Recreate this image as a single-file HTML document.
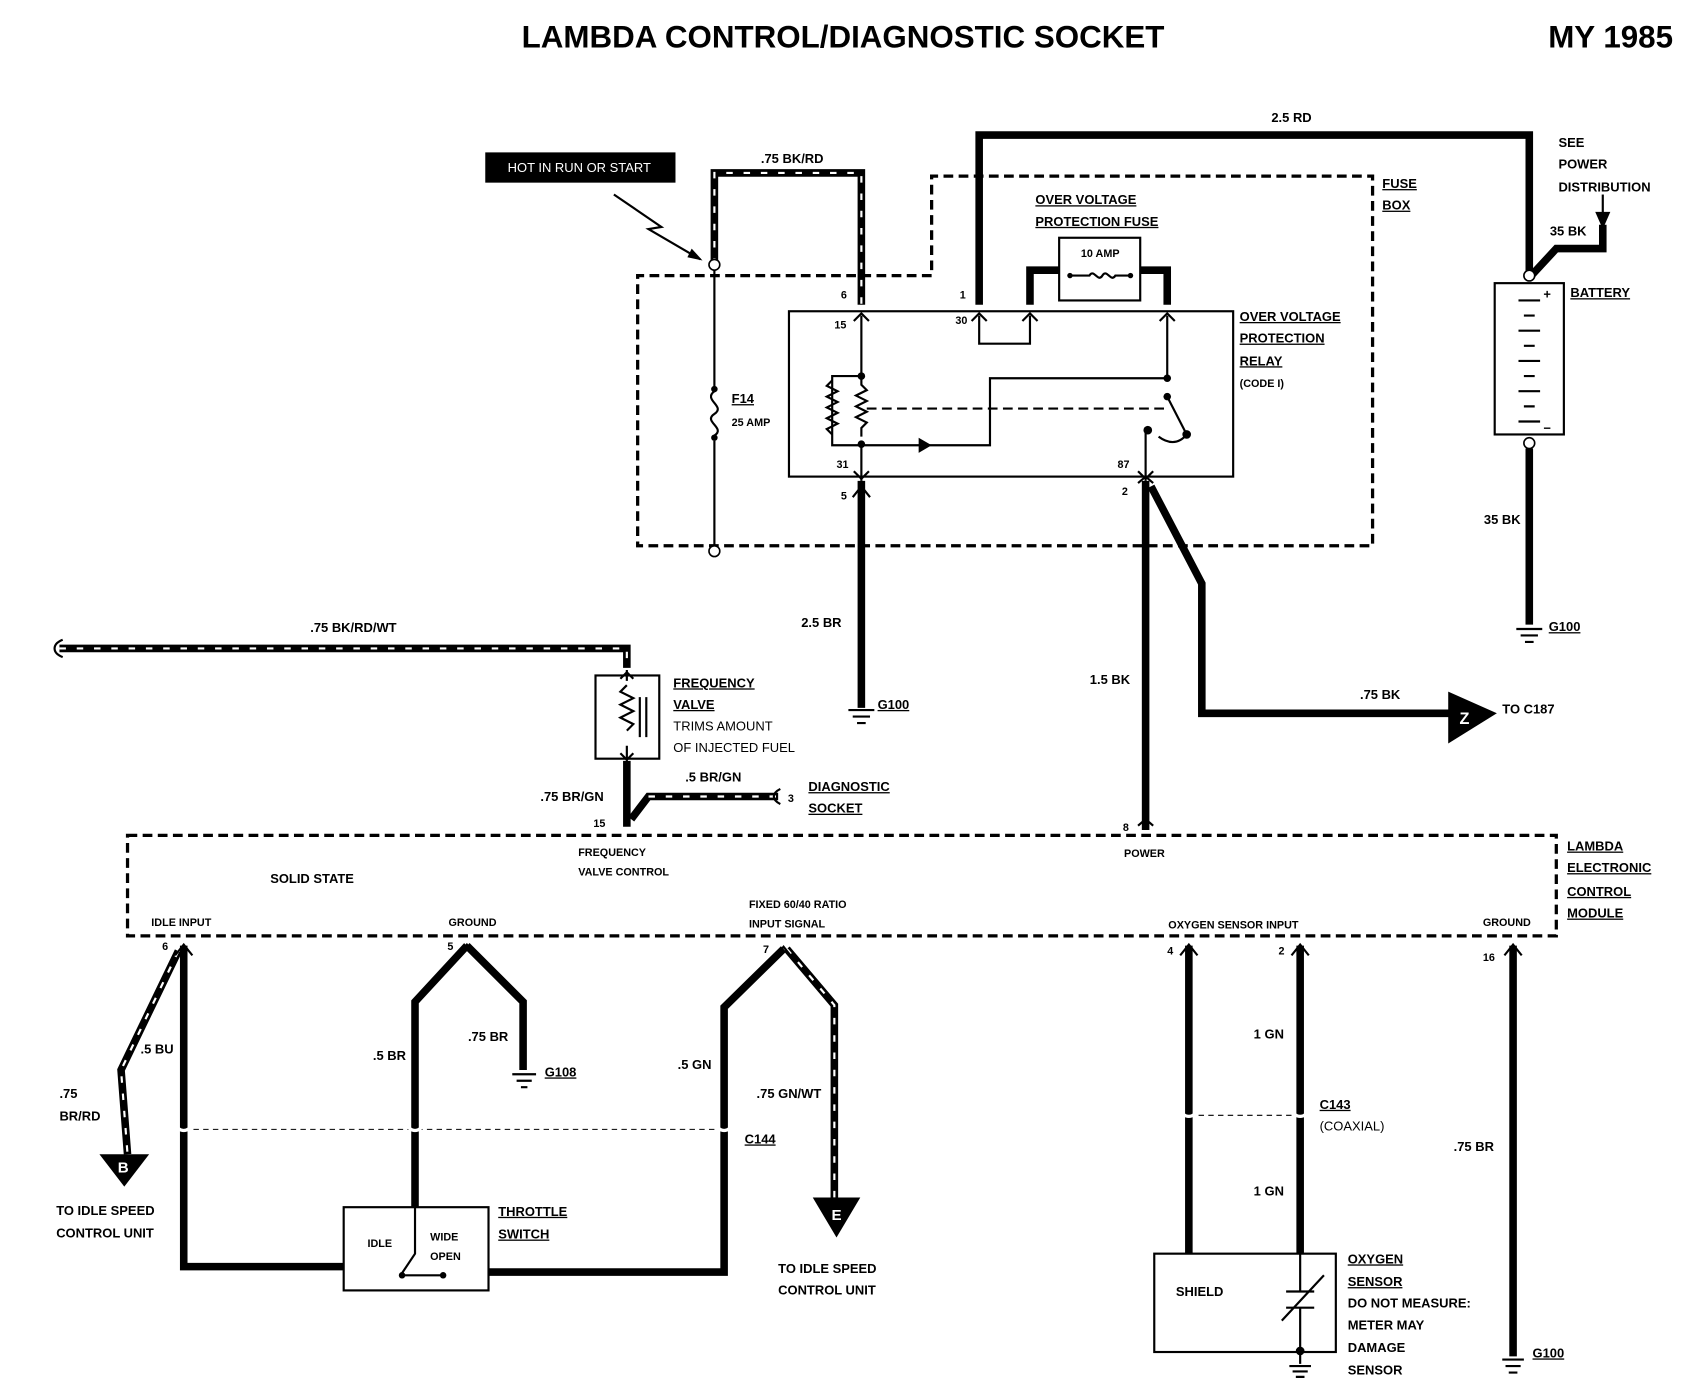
<!DOCTYPE html>
<html><head><meta charset="utf-8"><style>
html,body{margin:0;padding:0;background:#fff;}
svg{display:block;}
text{font-family:"Liberation Sans",sans-serif;font-weight:bold;fill:#000;}
.t{font-size:12px;}
.s{font-size:10px;}
.w{fill:none;stroke:#000;stroke-width:7;stroke-linejoin:miter;}
.n{fill:none;stroke:#000;stroke-width:2;}
.d{fill:none;stroke:#000;stroke-width:3;stroke-dasharray:9,5;}
.dl{fill:none;stroke:#000;stroke-width:1;stroke-dasharray:5,4;}
.st{fill:none;stroke:#fff;stroke-width:2;stroke-dasharray:6,10;}
</style></head><body>
<svg width="1686" height="1392" viewBox="0 0 1560 1288" preserveAspectRatio="none" xmlns="http://www.w3.org/2000/svg">
<rect width="1560" height="1288" fill="#fff"/>
<text x="780" y="44" text-anchor="middle" style="font-size:29px">LAMBDA CONTROL/DIAGNOSTIC SOCKET</text>
<text x="1548" y="44" text-anchor="end" style="font-size:29px">MY 1985</text>

<!-- HOT IN RUN -->
<rect x="449" y="141" width="176" height="28" fill="#000"/>
<text x="536" y="159" text-anchor="middle" class="t" style="fill:#fff;font-weight:normal">HOT IN RUN OR START</text>
<path d="M568 180 L612 210 L600 212 L648 240" class="n" stroke-width="3"/>
<path d="M640 230 L650 241 L636 238Z" fill="#000"/>

<!-- .75 BK/RD -->
<path d="M661 245 V160 H797 V282" class="w"/>
<path d="M661 245 V160 H797 V282" class="st"/>
<text x="733" y="151" text-anchor="middle" class="t">.75 BK/RD</text>

<!-- fuse box dashed -->
<path d="M862 255 H590 V505 H1270 V163 H862 Z" class="d" style="stroke-dasharray:9,5"/>
<rect x="863" y="164" width="406" height="90" fill="none"/>
<text x="1279" y="174" class="t" text-decoration="underline">FUSE</text>
<text x="1279" y="194" class="t" text-decoration="underline">BOX</text>

<!-- F14 -->
<path d="M661 250 V358 M661 408 V505" class="n"/>
<circle cx="661" cy="245" r="5" fill="#fff" stroke="#000" stroke-width="1.5"/>
<circle cx="661" cy="510" r="5" fill="#fff" stroke="#000" stroke-width="1.5"/>
<circle cx="661" cy="360" r="3" fill="#000"/><circle cx="661" cy="405" r="3" fill="#000"/>
<path d="M661 362 C650 370,672 376,661 383 C650 390,672 396,661 403" class="n"/>
<text x="677" y="373" class="t" text-decoration="underline">F14</text>
<text x="677" y="394" class="s">25 AMP</text>

<!-- 2.5 RD -->
<path d="M906 282 V125 H1415 V257" class="w"/>
<text x="1195" y="113" text-anchor="middle" class="t">2.5 RD</text>

<!-- over voltage fuse -->
<text x="958" y="189" class="t" text-decoration="underline">OVER VOLTAGE</text>
<text x="958" y="209" class="t" text-decoration="underline">PROTECTION FUSE</text>
<rect x="980" y="220" width="75" height="58" class="n"/>
<path d="M953 282 V250 H980 M1055 250 H1080 V282" class="w"/>
<text x="1018" y="238" text-anchor="middle" class="s">10 AMP</text>
<path d="M990 255 H1008 C1012 248,1016 262,1020 255 C1024 248,1028 262,1032 255 H1048" class="n"/>
<circle cx="990" cy="255" r="2.5"/><circle cx="1046" cy="255" r="2.5"/>

<!-- relay -->
<rect x="730" y="288" width="411" height="153" class="n"/>
<text x="778" y="276" class="s">6</text><text x="772" y="304" class="s">15</text>
<text x="888" y="276" class="s">1</text><text x="884" y="300" class="s">30</text>
<text x="774" y="433" class="s">31</text><text x="778" y="462" class="s">5</text>
<text x="1034" y="433" class="s">87</text><text x="1038" y="458" class="s">2</text>
<path d="M797 292 V348 M906 292 V318 H953 V292 M1080 292 V350 M797 410 V445 M1060 400 V445" class="n"/>
<path d="M790 297 L797 290 L804 297 M899 297 L906 290 L913 297 M946 297 L953 290 L960 297 M1073 297 L1080 290 L1087 297 M790 436 L797 443 L804 436 M1053 436 L1060 443 L1067 436" class="n"/>
<path d="M797 348 H770 V412 H797" class="n"/>
<path d="M770 352 l-5 5 l10 5 l-10 5 l10 5 l-10 5 l10 5 l-10 5 l10 5 l-10 5 l5 5" class="n"/>
<path d="M797 348 v8 l5 5 l-10 5 l10 5 l-10 5 l10 5 l-10 5 l10 5 l-5 5 v8" class="n"/>
<circle cx="797" cy="348" r="3.5"/><circle cx="797" cy="411" r="3.5"/>
<path d="M797 412 H916 V350 H1080" class="n"/>
<path d="M850 405 l12 7 l-12 7Z M862 403 v18"/>
<path d="M802 378 H1080" class="n" stroke-dasharray="9,5"/>
<circle cx="1080" cy="350" r="3.5"/><circle cx="1080" cy="367" r="3.5"/>
<path d="M1080 367 L1098 402 M1098 402 C1090 412,1080 410,1072 404" class="n"/>
<circle cx="1098" cy="402" r="4"/><circle cx="1062" cy="398" r="4"/>

<text x="1147" y="297" class="t" text-decoration="underline">OVER VOLTAGE</text>
<text x="1147" y="317" class="t" text-decoration="underline">PROTECTION</text>
<text x="1147" y="338" class="t" text-decoration="underline">RELAY</text>
<text x="1147" y="358" class="s">(CODE I)</text>

<!-- pin 5 ground -->
<path d="M797 445 V655" class="w"/>
<text x="760" y="580" text-anchor="middle" class="t">2.5 BR</text>
<path d="M785 657 H809 M789 663 H805 M793 669 H801" class="n"/>
<text x="812" y="656" class="t" text-decoration="underline">G100</text>

<!-- pin 2 -->
<path d="M1060 445 V768" class="w"/>
<path d="M1065 450 L1112 540 V660 H1345" class="w"/>
<path d="M1340 640 L1385 660 L1340 688Z"/>
<text x="1355" y="670" text-anchor="middle" style="font-size:15px;fill:#fff">Z</text>
<text x="1027" y="633" text-anchor="middle" class="t">1.5 BK</text>
<text x="1277" y="647" text-anchor="middle" class="t">.75 BK</text>
<text x="1390" y="660" class="t">TO C187</text>
<path d="M1053 447 L1060 441 L1067 447 M1053 764 L1060 758 L1067 764" class="n" stroke-width="3"/>

<!-- battery -->
<text x="1442" y="136" class="t">SEE</text>
<text x="1442" y="156" class="t">POWER</text>
<text x="1442" y="177" class="t">DISTRIBUTION</text>
<path d="M1483 180 V210" class="n"/>
<path d="M1476 196 L1490 196 L1483 212Z"/>
<path d="M1415 257 L1440 230 H1483 V208" class="w"/>
<text x="1434" y="218" class="t">35 BK</text>
<rect x="1383" y="262" width="64" height="140" class="n"/>
<circle cx="1415" cy="255" r="5" fill="#fff" stroke="#000" stroke-width="1.5"/>
<circle cx="1415" cy="410" r="5" fill="#fff" stroke="#000" stroke-width="1.5"/>
<path d="M1405 278h20 M1410 292h10 M1405 306h20 M1410 320h10 M1405 334h20 M1410 348h10 M1405 362h20 M1410 376h10 M1405 390h20" class="n"/>
<text x="1428" y="276" class="t">+</text><text x="1428" y="400" class="t">−</text>
<text x="1453" y="275" class="t" text-decoration="underline">BATTERY</text>
<path d="M1415 415 V578" class="w"/>
<text x="1390" y="485" text-anchor="middle" class="t">35 BK</text>
<path d="M1403 582 H1427 M1407 588 H1423 M1411 594 H1419" class="n"/>
<text x="1433" y="584" class="t" text-decoration="underline">G100</text>

<!-- .75 BK/RD/WT -->
<path d="M55 600 H580 V618" class="w"/>
<path d="M55 600 H580 V618" class="st"/>
<path d="M58 592 C48 596,48 604,58 608" class="n"/>
<text x="327" y="585" text-anchor="middle" class="t">.75 BK/RD/WT</text>
<rect x="551" y="625" width="59" height="77" class="n"/>
<path d="M580 620 V630 M580 690 V704" class="n"/>
<path d="M574 628 L580 622 L586 628 M574 697 L580 703 L586 697" class="n"/>
<path d="M580 634 l-6 6 l12 6 l-12 6 l12 6 l-12 6 l12 6 l-6 6" class="n"/>
<path d="M592 645 V682 M598 645 V682" class="n" stroke-width="1.5"/>
<text x="623" y="636" class="t" text-decoration="underline">FREQUENCY</text>
<text x="623" y="656" class="t" text-decoration="underline">VALVE</text>
<text x="623" y="676" class="t" style="font-weight:normal">TRIMS AMOUNT</text>
<text x="623" y="696" class="t" style="font-weight:normal">OF INJECTED FUEL</text>
<path d="M580 704 V765" class="w"/>
<path d="M584 758 L600 737 H720" class="w"/>
<path d="M600 737 H720" class="st"/>
<path d="M722 730 C714 734,714 740,722 744" class="n"/>
<text x="729" y="742" class="s">3</text>
<text x="634" y="723" class="t">.5 BR/GN</text>
<text x="500" y="741" class="t">.75 BR/GN</text>
<text x="549" y="765" class="s">15</text>
<text x="748" y="732" class="t" text-decoration="underline">DIAGNOSTIC</text>
<text x="748" y="752" class="t" text-decoration="underline">SOCKET</text>

<!-- ECM -->
<rect x="118" y="773" width="1322" height="93" class="d"/>
<text x="1450" y="787" class="t" text-decoration="underline">LAMBDA</text>
<text x="1450" y="807" class="t" text-decoration="underline">ELECTRONIC</text>
<text x="1450" y="829" class="t" text-decoration="underline">CONTROL</text>
<text x="1450" y="849" class="t" text-decoration="underline">MODULE</text>
<text x="250" y="817" class="t">SOLID STATE</text>
<text x="535" y="792" class="s">FREQUENCY</text>
<text x="535" y="810" class="s">VALVE CONTROL</text>
<text x="1039" y="769" class="s">8</text>
<text x="1040" y="793" class="s">POWER</text>
<text x="140" y="857" class="s">IDLE INPUT</text>
<text x="415" y="857" class="s">GROUND</text>
<text x="693" y="840" class="s">FIXED 60/40 RATIO</text>
<text x="693" y="858" class="s">INPUT SIGNAL</text>
<text x="1081" y="859" class="s">OXYGEN SENSOR INPUT</text>
<text x="1372" y="857" class="s">GROUND</text>
<text x="150" y="879" class="s">6</text><text x="414" y="879" class="s">5</text><text x="706" y="882" class="s">7</text>
<text x="1080" y="883" class="s">4</text><text x="1183" y="883" class="s">2</text><text x="1372" y="889" class="s">16</text>

<!-- idle input -->
<path d="M170 875 V1172 H318" class="w"/>
<path d="M165 880 L112 990 L118 1068" class="w"/>
<path d="M165 880 L112 990 L118 1068" class="st"/>
<path d="M92 1068 H138 L115 1098Z"/>
<text x="114" y="1085" text-anchor="middle" style="font-size:14px;fill:#fff">B</text>
<text x="130" y="975" class="t">.5 BU</text>
<text x="55" y="1016" class="t">.75</text><text x="55" y="1037" class="t">BR/RD</text>
<text x="52" y="1124" class="t">TO IDLE SPEED</text><text x="52" y="1145" class="t">CONTROL UNIT</text>

<!-- ground 5 -->
<path d="M432 875 L384 927 V1117 M432 875 L484 927 V990" class="w"/>
<text x="345" y="981" class="t">.5 BR</text>
<text x="433" y="963" class="t">.75 BR</text>
<path d="M474 994 H496 M478 1000 H492 M482 1006 H488" class="n"/>
<text x="504" y="996" class="t" text-decoration="underline">G108</text>

<!-- pin 7 -->
<path d="M725 878 L670 932 V1177 H452" class="w"/>
<path d="M728 878 L772 930 V1110" class="w"/>
<path d="M728 878 L772 930 V1110" class="st"/>
<path d="M752 1108 H796 L774 1145Z"/>
<text x="774" y="1129" text-anchor="middle" style="font-size:14px;fill:#fff">E</text>
<text x="627" y="989" class="t">.5 GN</text>
<text x="700" y="1016" class="t">.75 GN/WT</text>
<text x="720" y="1178" class="t">TO IDLE SPEED</text><text x="720" y="1198" class="t">CONTROL UNIT</text>

<!-- C144 -->
<path d="M170 1045 H670" class="dl"/>
<path d="M162 1040 C166 1048,174 1048,178 1040 M376 1040 C380 1048,388 1048,392 1040 M662 1040 C666 1048,674 1048,678 1040" stroke="#fff" stroke-width="3" fill="none"/>
<text x="689" y="1058" class="t" text-decoration="underline">C144</text>

<!-- throttle switch -->
<rect x="318" y="1117" width="134" height="77" class="n"/>
<text x="340" y="1154" class="s">IDLE</text>
<text x="398" y="1148" class="s">WIDE</text><text x="398" y="1166" class="s">OPEN</text>
<path d="M384 1117 V1160 L372 1178 M372 1180 H410" class="n"/>
<circle cx="372" cy="1180" r="3"/><circle cx="410" cy="1180" r="3"/>
<text x="461" y="1125" class="t" text-decoration="underline">THROTTLE</text>
<text x="461" y="1146" class="t" text-decoration="underline">SWITCH</text>

<!-- oxygen -->
<path d="M1100 875 V1160 M1203 875 V1160" class="w"/>
<path d="M1100 1032 H1203" class="dl"/>
<path d="M1092 1027 C1096 1035,1104 1035,1108 1027 M1195 1027 C1199 1035,1207 1035,1211 1027" stroke="#fff" stroke-width="3" fill="none"/>
<text x="1160" y="961" class="t">1 GN</text>
<text x="1160" y="1106" class="t">1 GN</text>
<text x="1221" y="1026" class="t" text-decoration="underline">C143</text>
<text x="1221" y="1046" class="t" style="font-weight:normal">(COAXIAL)</text>
<rect x="1068" y="1160" width="168" height="91" class="n"/>
<text x="1088" y="1199" class="t">SHIELD</text>
<path d="M1203 1160 V1195 M1190 1195 H1216 M1190 1210 H1216 M1203 1210 V1262 M1186 1222 L1225 1180" class="n"/>
<path d="M1193 1264 H1213 M1196 1269 H1210 M1199 1274 H1207" class="n"/>
<circle cx="1203" cy="1250" r="4"/>
<text x="1247" y="1169" class="t" text-decoration="underline">OXYGEN</text>
<text x="1247" y="1190" class="t" text-decoration="underline">SENSOR</text>
<text x="1247" y="1210" class="t">DO NOT MEASURE:</text>
<text x="1247" y="1230" class="t">METER MAY</text>
<text x="1247" y="1251" class="t">DAMAGE</text>
<text x="1247" y="1272" class="t">SENSOR</text>

<!-- ground 16 -->
<path d="M1400 875 V1255" class="w"/>
<text x="1345" y="1065" class="t">.75 BR</text>
<path d="M1390 1258 H1410 M1393 1264 H1407 M1396 1270 H1404" class="n"/>
<text x="1418" y="1256" class="t" text-decoration="underline">G100</text>

<!-- connector forks -->
<path d="M162 884 L170 874 L178 884 M424 884 L432 874 L440 884 M717 886 L725 876 L733 886 M1092 884 L1100 874 L1108 884 M1195 884 L1203 874 L1211 884 M1392 884 L1400 874 L1408 884 M789 460 L797 450 L805 460" class="n" stroke-width="3"/>
</svg>
</body></html>
